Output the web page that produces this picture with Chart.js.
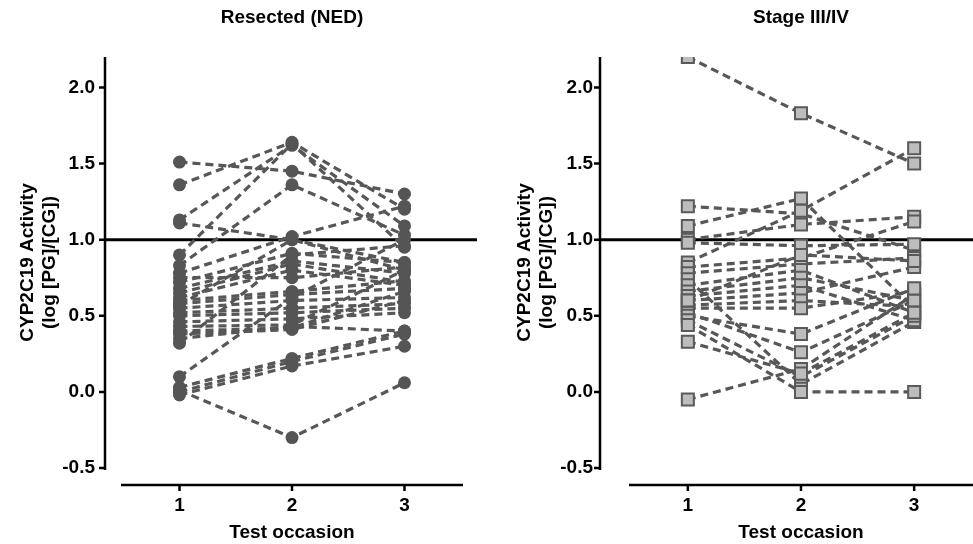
<!DOCTYPE html>
<html>
<head>
<meta charset="utf-8">
<script src="https://cdn.jsdelivr.net/npm/chart.js@4.4.0/dist/chart.umd.min.js"></script>
<style>
  body { margin: 0; background: #fff; }
  #wrap { display: flex; width: 973px; height: 544px; }
  canvas { display: block; }
</style>
</head>
<body>
<div id="wrap">
  <canvas id="nedChart" width="486" height="544"></canvas>
  <canvas id="stageChart" width="487" height="544"></canvas>
</div>
<script>
// test occasions and axis ticks
const occasions = [1, 2, 3];
const yTicks = [-0.5, 0, 0.5, 1.0, 1.5, 2.0];
const refLevel = 1.0;

// Resected (NED) - one entry per patient, occasion 1/2/3
const nedT1 = [1.51, 1.36, 1.13, 1.11, 0.90, 0.83, 0.78, 0.72, 0.68, 0.65, 0.62, 0.60, 0.58, 0.55, 0.52,
               0.50, 0.46, 0.43, 0.40, 0.38, 0.35, 0.32, 0.10, 0.03, 0.00, -0.02, 0.01, 0.75, 0.57];
const nedT2 = [1.45, 1.64, 1.62, 1.00, 1.63, 1.36, 1.02, 0.91, 0.86, 0.84, 0.80, 0.66, 0.64, 0.60, 0.55,
               0.52, 0.48, 0.44, 0.42, 0.41, 0.43, 0.90, 0.62, 0.22, 0.20, 0.17, -0.30, 0.75, 1.00];
const nedT3 = [1.30, 1.20, 1.09, 0.80, 0.95, 1.03, 1.22, 0.85, 0.78, 0.72, 0.70, 0.73, 0.68, 0.62, 0.58,
               0.55, 0.52, 0.80, 0.66, 0.60, 0.40, 0.96, 1.00, 0.40, 0.38, 0.30, 0.06, 0.82, 0.85];

// Stage III/IV
const stageT1 = [2.20, -0.05, 1.22, 1.09, 1.00, 0.98, 0.85, 0.82, 0.78, 0.74, 0.70, 0.66, 0.63, 0.60, 0.57,
                 0.55, 0.52, 0.50, 0.47, 0.44, 0.33, 0.60];
const stageT2 = [1.83, 0.15, 1.17, 1.27, 1.10, 0.96, 1.19, 0.88, 0.84, 0.05, 0.80, 0.75, 0.70, 0.65, 0.60,
                 0.55, 0.26, 0.38, 0.10, 0.00, 0.12, 0.90];
const stageT3 = [1.50, 0.64, 0.93, 0.55, 1.15, 0.97, 1.60, 1.12, 0.88, 0.46, 0.52, 0.60, 0.47, 0.82, 0.56,
                 0.66, 0.60, 0.68, 0.50, 0.00, 0.52, 0.86];

const LINE_COL = '#575757';
const FONT = 'Liberation Sans, Arial, Helvetica, sans-serif';
const FS = 19;

// detached prism-style axes, reference line and panel title
const prismAxes = {
  id: 'prismAxes',
  beforeDatasetsDraw(chart, args, opts) {
    const { ctx, chartArea, scales: { y } } = chart;
    const ax = chartArea.left - opts.yGap;
    const ry = y.getPixelForValue(refLevel);
    ctx.save();
    ctx.strokeStyle = '#000';
    ctx.lineWidth = 3;
    ctx.beginPath();
    ctx.moveTo(ax, ry);
    ctx.lineTo(opts.refEnd, ry);
    ctx.stroke();
    ctx.restore();
  },
  afterDraw(chart, args, opts) {
    const { ctx, chartArea, scales: { x, y } } = chart;
    const ax = chartArea.left - opts.yGap;
    const ay = chartArea.bottom + opts.xGap;
    ctx.save();
    ctx.strokeStyle = '#000';
    ctx.lineWidth = 2.5;
    ctx.beginPath();
    ctx.moveTo(ax, y.top);
    ctx.lineTo(ax, y.bottom + 2);
    y.ticks.forEach(t => {
      const py = y.getPixelForValue(t.value);
      ctx.moveTo(ax - 6, py);
      ctx.lineTo(ax, py);
    });
    ctx.moveTo(x.left, ay);
    ctx.lineTo(x.right, ay);
    x.ticks.forEach(t => {
      const px = x.getPixelForValue(t.value);
      ctx.moveTo(px, ay);
      ctx.lineTo(px, ay + 6);
    });
    ctx.stroke();

    ctx.fillStyle = '#000';
    ctx.font = 'bold ' + FS + 'px ' + FONT;
    ctx.textAlign = 'center';
    ctx.textBaseline = 'middle';
    ctx.fillText(opts.title, (chartArea.left + chartArea.right) / 2, 18);
    ctx.restore();
  }
};

function buildChart(id, t1, t2, t3, pointOpts, geom) {
  const series = [t1, t2, t3];
  const datasets = [];
  // one dashed line per patient
  t1.forEach((_, i) => {
    datasets.push({
      data: occasions.map((o, k) => ({ x: o, y: series[k][i] })),
      showLine: true,
      borderColor: LINE_COL,
      borderWidth: 3.2,
      borderDash: [8, 5],
      pointRadius: 0,
      order: 2
    });
  });
  // markers on top
  occasions.forEach((o, k) => {
    datasets.push(Object.assign({
      data: series[k].map(v => ({ x: o, y: v })),
      showLine: false,
      order: 1
    }, pointOpts));
  });

  return new Chart(document.getElementById(id), {
    type: 'scatter',
    data: { datasets },
    plugins: [prismAxes],
    options: {
      responsive: false,
      animation: false,
      layout: { autoPadding: false, padding: { top: 57, right: geom.padRight, bottom: 0, left: 0 } },
      plugins: {
        legend: { display: false },
        tooltip: { enabled: false },
        prismAxes: { title: geom.title, yGap: geom.yGap, xGap: 17, refEnd: geom.refEnd }
      },
      scales: {
        x: {
          type: 'linear',
          min: 0.48,
          max: 3.52,
          grid: { display: false, drawTicks: false },
          border: { display: false },
          afterBuildTicks: s => { s.ticks = occasions.map(v => ({ value: v })); },
          afterFit: s => { s.height = 76; s.paddingLeft = 0; s.paddingRight = 0; },
          ticks: {
            padding: 26,
            color: '#000',
            font: { family: FONT, size: FS, weight: 'bold' },
            callback: v => String(v)
          },
          title: {
            display: true,
            text: 'Test occasion',
            color: '#000',
            padding: { top: 0, bottom: 0 },
            font: { family: FONT, size: FS, weight: 'bold' }
          }
        },
        y: {
          min: -0.5,
          max: 2.2,
          grid: { display: false, drawTicks: false },
          border: { display: false },
          afterBuildTicks: s => { s.ticks = yTicks.map(v => ({ value: v })); },
          afterFit: s => { s.width = geom.yWidth; s.paddingTop = 0; s.paddingBottom = 0; },
          ticks: {
            padding: geom.tickPad,
            color: '#000',
            font: { family: FONT, size: FS, weight: 'bold' },
            callback: v => Number(v).toFixed(1)
          },
          title: {
            display: true,
            text: ['CYP2C19 Activity', '(log [PG]/[CG])'],
            color: '#000',
            padding: { top: geom.titlePad, bottom: 0 },
            font: { family: FONT, size: FS, weight: 'bold' }
          }
        }
      }
    }
  });
}

buildChart('nedChart', nedT1, nedT2, nedT3, {
  pointStyle: 'circle',
  pointRadius: 6.5,
  pointBackgroundColor: '#555555',
  pointBorderColor: '#555555',
  pointBorderWidth: 0
}, { title: 'Resected (NED)', yWidth: 121, padRight: 23, yGap: 16, tickPad: 26, titlePad: 16, refEnd: 477 });

buildChart('stageChart', stageT1, stageT2, stageT3, {
  pointStyle: 'rect',
  pointRadius: 8.5,
  pointBackgroundColor: '#bdbdbd',
  pointBorderColor: '#5a5a5a',
  pointBorderWidth: 2
}, { title: 'Stage III/IV', yWidth: 143, padRight: 0, yGap: 29, tickPad: 36, titlePad: 27, refEnd: 487 });
</script>
</body>
</html>
